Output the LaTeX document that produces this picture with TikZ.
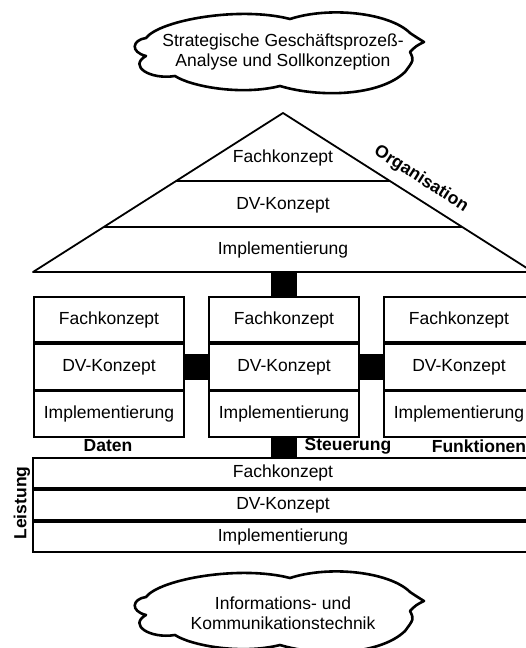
\documentclass[tikz,border=0pt]{standalone}
\usepackage{fontspec}
\setmainfont{Liberation Sans}
\begin{document}
\begin{tikzpicture}[x=1pt,y=-1pt,
  every node/.style={font=\fontsize{17.5}{19.5}\selectfont, inner sep=0pt},
  cell/.style={draw, line width=1.8pt, minimum width=150pt, minimum height=45.33pt},
  band/.style={draw, line width=1.8pt, minimum width=500pt, minimum height=30pt},
  bar/.style={line width=26pt},
  lbl/.style={font=\fontsize{17.5}{19.5}\selectfont\bfseries},
  cloudline/.style={line width=2.6pt, line join=round},
  pics/cloudshape/.style={code={
    \draw[cloudline] (-137,-14)
      .. controls (-123,-32) and (-43,-46) .. (7,-33)
      .. controls (47,-46) and (107,-39) .. (127,-19)
      .. controls (133,-15) .. (141,-10)
      .. controls (133,-6) .. (127,0)
      .. controls (131,8) .. (122,20)
      .. controls (97,44) and (37,46) .. (-3,34)
      .. controls (-43,44) and (-93,34) .. (-108,24)
      .. controls (-133,28) and (-155,14) .. (-137,4)
      .. controls (-153,0) and (-151,-12) .. cycle;
  }}
]
\useasboundingbox (0,0) rectangle (525,648);

% upper cloud: strategic analysis
\pic at (283,52) {cloudshape};
\node[align=center] (strat) at (283,52) {Strategische Geschäftsprozeß-\\Analyse und Sollkonzeption};

% organisation pyramid
\coordinate (apex) at (283,113);
\coordinate (baseL) at (33,272);
\coordinate (baseR) at (533,272);
\draw[line width=1.8pt, line join=round] (apex) -- (baseL) -- (baseR) -- cycle;
\draw[line width=1.8pt] (176.1,181) -- (389.9,181);
\draw[line width=1.8pt] (103.8,227) -- (462.2,227);
\node (o1) at (283,158) {Fachkonzept};
\node (o2) at (283,205) {DV-Konzept};
\node (o3) at (283,250) {Implementierung};
\coordinate (obase) at (284,272);
\node[lbl, rotate=-32.5] (org) at (421,179) {Organisation};

% data, control and function views
\node[cell] (d1) at (109,319.67) {Fachkonzept};
\node[cell, anchor=north] (d2) at (d1.south) {DV-Konzept};
\node[cell, anchor=north] (d3) at (d2.south) {Implementierung};
\node[cell] (s1) at (284,319.67) {Fachkonzept};
\node[cell, anchor=north] (s2) at (s1.south) {DV-Konzept};
\node[cell, anchor=north] (s3) at (s2.south) {Implementierung};
\node[cell] (f1) at (459,319.67) {Fachkonzept};
\node[cell, anchor=north] (f2) at (f1.south) {DV-Konzept};
\node[cell, anchor=north] (f3) at (f2.south) {Implementierung};

\node[lbl] (daten) at (108,446) {Daten};
\node[lbl] (steuer) at (348,446) {Steuerung};
\node[lbl] (funk) at (479,446) {Funktionen};

% performance view
\node[band] (l1) at (283,473) {Fachkonzept};
\node[band, anchor=north] (l2) at (l1.south) {DV-Konzept};
\node[band, anchor=north] (l3) at (l2.south) {Implementierung};
\node[lbl, rotate=90] (leist) at (22,503) {Leistung};

% black links between the views
\draw[bar] (obase) -- (s1.north);
\draw[bar] (d2.east) -- (s2.west);
\draw[bar] (s2.east) -- (f2.west);
\draw[bar] (s3.south) -- (s3.south |- l1.north);

% lower cloud: information technology
\pic at (283,611) {cloudshape};
\node[align=center] (ikt) at (283,613) {Informations- und\\Kommunikationstechnik};
\end{tikzpicture}
\end{document}
